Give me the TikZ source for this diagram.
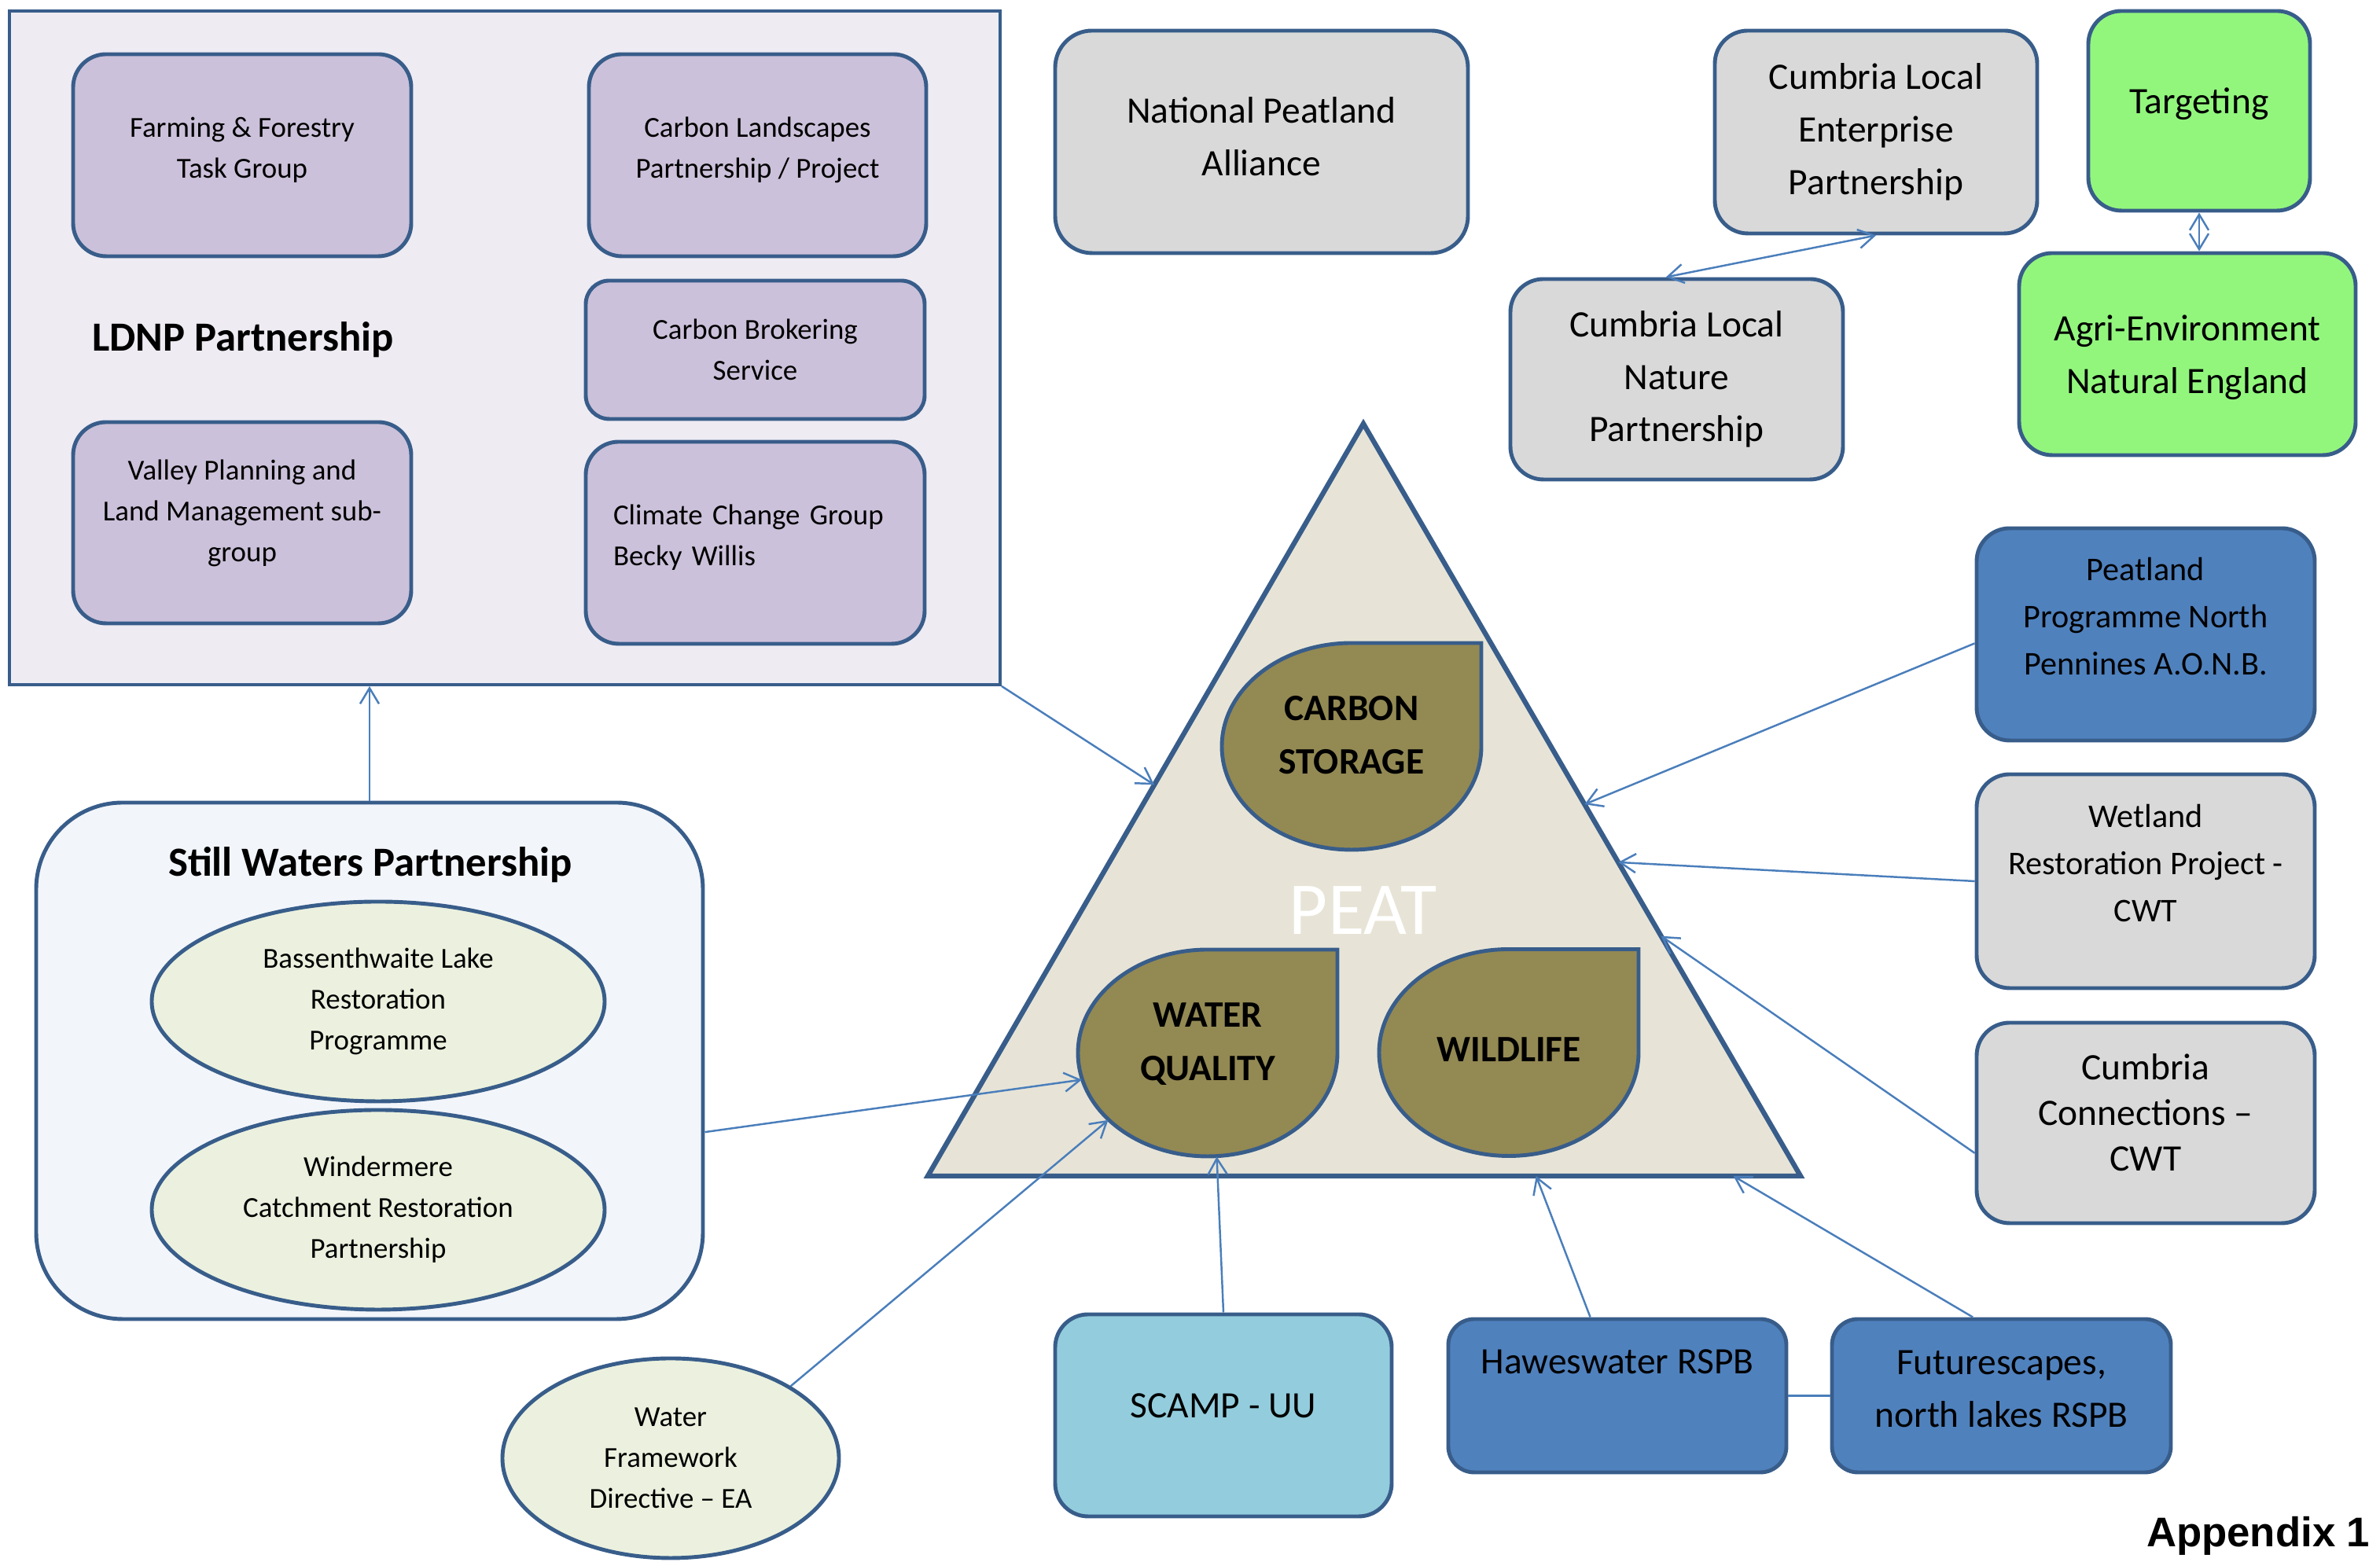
\documentclass[tikz,border=0pt]{standalone}
\usepackage{fontspec}
\setmainfont{Carlito}
\newfontfamily\appfont{Liberation Sans}
\usetikzlibrary{arrows.meta,positioning,calc,shapes.geometric}
\definecolor{edge}{HTML}{385D8A}
\definecolor{wire}{HTML}{4A7EBB}
\definecolor{lilac}{HTML}{CCC1DA}
\definecolor{lilacbg}{HTML}{EEEBF3}
\definecolor{greybox}{HTML}{D9D9D9}
\definecolor{leaf}{HTML}{92F67D}
\definecolor{steel}{HTML}{4F81BD}
\definecolor{sky}{HTML}{93CDDD}
\definecolor{pale}{HTML}{EBF1DE}
\definecolor{mist}{HTML}{F2F5FA}
\definecolor{sand}{HTML}{E7E4D7}
\definecolor{moss}{HTML}{938953}

\begin{document}
\begin{tikzpicture}[x=1cm,y=1cm,
  box/.style={draw=edge,line width=1.4pt,rounded corners=0.42cm,align=center,inner sep=0pt},
  small/.style={font=\fontsize{10.5}{14.8}\selectfont},
  mid/.style={font=\fontsize{12}{17}\selectfont},
  big/.style={font=\fontsize{13.5}{19}\selectfont},
  heading/.style={font=\bfseries\fontsize{15}{18}\selectfont},
  lift/.style={text depth=#1},
  oval/.style={ellipse,draw=edge,line width=1.4pt,fill=pale,align=center,inner sep=0pt,font=\fontsize{10.5}{14.8}\selectfont},
  drop/.style={ellipse,minimum width=3.3cm,minimum height=2.63cm,inner sep=0pt,align=center,font=\bfseries\fontsize{13.5}{19.2}\selectfont},
  feed/.style={draw=wire,line width=0.7pt,-{Straight Barb[length=2mm,width=2.4mm]}},
  twoway/.style={feed,{Straight Barb[length=2mm,width=2.4mm]}-{Straight Barb[length=2mm,width=2.4mm]}}]
\useasboundingbox (0,0) rectangle (30.27,19.87);

% LDNP group
\node[draw=edge,line width=1.1pt,fill=lilacbg,minimum width=12.6cm,minimum height=8.57cm,inner sep=0pt] (ldnp) at (6.42,15.445) {};
\node[box,small,lift=0.19cm,fill=lilac,minimum width=4.3cm,minimum height=2.57cm] (farm) at (3.08,17.895) {Farming \& Forestry\\Task Group};
\node[box,small,lift=0.19cm,fill=lilac,minimum width=4.29cm,minimum height=2.57cm] (landsc) at (9.635,17.895) {Carbon Landscapes\\Partnership / Project};
\node[box,small,fill=lilac,minimum width=4.31cm,minimum height=1.76cm,rounded corners=0.3cm] (broker) at (9.605,15.42) {Carbon Brokering\\Service};
\node[box,small,lift=0.71cm,fill=lilac,minimum width=4.31cm,minimum height=2.57cm,align=left,text width=3.61cm] (climate) at (9.605,12.965) {Climate Change Group\\Becky Willis};
\node[box,small,lift=0.31cm,fill=lilac,minimum width=4.3cm,minimum height=2.56cm] (valley) at (3.08,13.22) {Valley Planning and\\Land Management sub-\\group};
\node[heading] (ldnptitle) at (3.09,15.55) {LDNP Partnership};

% top row
\node[box,big,lift=0.14cm,fill=greybox,minimum width=5.25cm,minimum height=2.83cm,rounded corners=0.47cm] (npa) at (16.045,18.065) {National Peatland\\Alliance};
\node[box,big,fill=greybox,minimum width=4.1cm,minimum height=2.58cm] (lep) at (23.86,18.19) {Cumbria Local\\Enterprise\\Partnership};
\node[box,big,fill=greybox,minimum width=4.23cm,minimum height=2.55cm] (clnp) at (21.325,15.045) {Cumbria Local\\Nature\\Partnership};
\node[box,big,lift=0.25cm,fill=leaf,minimum width=2.82cm,minimum height=2.54cm] (target) at (27.97,18.46) {Targeting};
\node[box,big,lift=-0.06cm,fill=leaf,minimum width=4.28cm,minimum height=2.57cm] (agri) at (27.82,15.365) {Agri-Environment\\Natural England};

% right column
\node[box,mid,lift=0.46cm,fill=steel,minimum width=4.3cm,minimum height=2.7cm] (pennines) at (27.29,11.8) {Peatland\\Programme North\\Pennines A.O.N.B.};
\node[box,mid,lift=0.46cm,fill=greybox,minimum width=4.3cm,minimum height=2.72cm] (wetland) at (27.29,8.66) {Wetland\\Restoration Project -\\CWT};
\node[box,lift=0.27cm,fill=greybox,font=\fontsize{13.5}{16.5}\selectfont,minimum width=4.3cm,minimum height=2.55cm] (connect) at (27.29,5.585) {Cumbria\\Connections --\\CWT};

% bottom row
\node[box,big,lift=0.24cm,fill=sky,minimum width=4.28cm,minimum height=2.57cm] (scamp) at (15.56,1.865) {SCAMP - UU};
\node[box,big,fill=steel,minimum width=4.3cm,minimum height=1.95cm,rounded corners=0.33cm] (hawes) at (20.57,2.115) {Haweswater RSPB\\\strut};
\node[box,big,lift=0.18cm,fill=steel,minimum width=4.31cm,minimum height=1.95cm,rounded corners=0.33cm] (future) at (25.455,2.115) {Futurescapes,\\north lakes RSPB};
\node[oval,minimum width=4.28cm,minimum height=2.54cm] (wfd) at (8.53,1.32) {Water\\Framework\\Directive -- EA};

% Still Waters group
\node[draw=edge,line width=1.4pt,fill=mist,rounded corners=1.1cm,minimum width=8.48cm,minimum height=6.57cm] (still) at (4.7,6.375) {};
\node[heading] (stilltitle) at (4.71,8.87) {Still Waters Partnership};
\node[oval,minimum width=5.76cm,minimum height=2.54cm] (bass) at (4.81,7.13) {Bassenthwaite Lake\\Restoration\\Programme};
\node[oval,minimum width=5.76cm,minimum height=2.54cm] (winder) at (4.81,4.48) {Windermere\\Catchment Restoration\\Partnership};

% peat triangle
\coordinate (top) at (17.34,14.48);
\coordinate (bl) at (11.8,4.91);
\coordinate (br) at (22.9,4.91);
\filldraw[fill=sand,draw=edge,line width=1.8pt] (top) -- (bl) -- (br) -- cycle;
\node[font=\fontsize{27}{30}\selectfont,text=white] (peat) at (17.34,8.29) {PEAT};
\foreach \cx/\cy in {17.19/10.375,15.36/6.475,19.19/6.48}{
  \filldraw[fill=moss,draw=edge,line width=1.4pt] (\cx-1.65,\cy) arc[start angle=180,end angle=90,x radius=1.65,y radius=1.315]
    -- (\cx+1.65,\cy+1.315) -- (\cx+1.65,\cy) arc[start angle=0,end angle=-180,x radius=1.65,y radius=1.315] -- cycle;
}
\node[drop,lift=0.29cm] (carbon) at (17.19,10.375) {CARBON\\STORAGE};
\node[drop,lift=0.29cm] (water) at (15.36,6.475) {WATER\\QUALITY};
\node[drop,lift=0.08cm] (wild) at (19.19,6.48) {WILDLIFE};

\coordinate (inL) at ($(top)!0.48!(bl)$);
\coordinate (inR1) at ($(top)!0.506!(br)$);
\coordinate (inR2) at ($(top)!0.583!(br)$);
\coordinate (inR3) at ($(top)!0.681!(br)$);
\coordinate (inB1) at ($(bl)!0.697!(br)$);
\coordinate (inB2) at ($(bl)!0.923!(br)$);

% links
\draw[feed] (still.north) -- (still.north |- ldnp.south);
\draw[feed] (ldnp.south east) -- (inL);
\draw[feed] (still.348) -- (water.192);
\draw[feed] (wfd.31) -- (water.214);
\draw[feed] (scamp.north) -- (water.275);
\draw[feed] (hawes.109) -- (inB1);
\draw[feed] (future.110) -- (inB2);
\draw[feed,-] (hawes.east) -- (future.west);
\draw[feed] (pennines.183) -- (inR1);
\draw[feed] (wetland.west) -- (inR2);
\draw[feed] (connect.190) -- (inR3);
\draw[twoway] (lep.south) -- (clnp.96);
\draw[twoway] (target.south) -- (target.south |- agri.north);

\node[font=\appfont\bfseries\fontsize{15}{18}\selectfont,anchor=east,inner sep=0pt] (appendix) at (30.15,0.33) {Appendix 1};
\end{tikzpicture}
\end{document}
